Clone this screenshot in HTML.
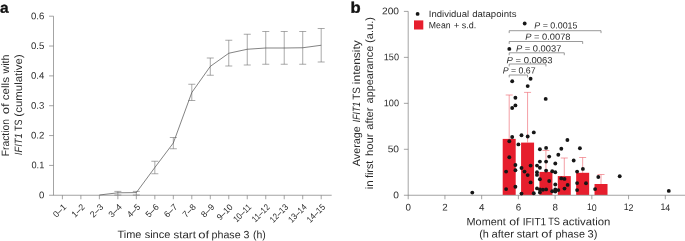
<!DOCTYPE html>
<html><head><meta charset="utf-8"><title>Figure</title>
<style>html,body{margin:0;padding:0;background:#fff}svg{display:block}text{text-rendering:geometricPrecision}</style></head>
<body>
<svg width="685" height="241" viewBox="0 0 685 241" font-family='"Liberation Sans", Arial, sans-serif' fill="#2b2b2b">
<rect width="685" height="241" fill="#fff"/>
<text transform="translate(-0.1 12.65) rotate(0.03) scale(1.04 1)" font-size="14.9" font-weight="bold" fill="#111" stroke="#111" stroke-width="0.3">a</text>
<g stroke="#7d7d7d" stroke-width="0.7" fill="none">
<path d="M53.5 16.2V195.25M49.1 195.25H331.7"/>
<path d="M49.1 165.41H53.5"/>
<path d="M49.1 135.57H53.5"/>
<path d="M49.1 105.72H53.5"/>
<path d="M49.1 75.88H53.5"/>
<path d="M49.1 46.04H53.5"/>
<path d="M49.1 16.20H53.5"/>
<path d="M62.40 195.25V199.25"/>
<path d="M80.89 195.25V199.25"/>
<path d="M99.37 195.25V199.25"/>
<path d="M117.86 195.25V199.25"/>
<path d="M136.34 195.25V199.25"/>
<path d="M154.83 195.25V199.25"/>
<path d="M173.32 195.25V199.25"/>
<path d="M191.80 195.25V199.25"/>
<path d="M210.29 195.25V199.25"/>
<path d="M228.77 195.25V199.25"/>
<path d="M247.26 195.25V199.25"/>
<path d="M265.75 195.25V199.25"/>
<path d="M284.23 195.25V199.25"/>
<path d="M302.72 195.25V199.25"/>
<path d="M321.20 195.25V199.25"/>
</g>
<text transform="translate(44.3 198.20) rotate(0.03) scale(1.0 1)" font-size="9.6" text-anchor="end">0</text>
<text transform="translate(44.3 168.36) rotate(0.03) scale(0.96 1)" font-size="9.6" text-anchor="end">0.1</text>
<text transform="translate(44.3 138.52) rotate(0.03) scale(1.0 1)" font-size="9.6" text-anchor="end">0.2</text>
<text transform="translate(44.3 108.67) rotate(0.03) scale(1.0 1)" font-size="9.6" text-anchor="end">0.3</text>
<text transform="translate(44.3 78.83) rotate(0.03) scale(1.0 1)" font-size="9.6" text-anchor="end">0.4</text>
<text transform="translate(44.3 48.99) rotate(0.03) scale(1.0 1)" font-size="9.6" text-anchor="end">0.5</text>
<text transform="translate(44.3 19.15) rotate(0.03) scale(1.0 1)" font-size="9.6" text-anchor="end">0.6</text>
<text transform="translate(67.00 207.65) rotate(-45) scale(1.0 1)" font-size="8.8" text-anchor="end">0–1</text>
<text transform="translate(85.49 207.65) rotate(-45) scale(1.0 1)" font-size="8.8" text-anchor="end">1–2</text>
<text transform="translate(103.97 207.65) rotate(-45) scale(1.0 1)" font-size="8.8" text-anchor="end">2–3</text>
<text transform="translate(122.46 207.65) rotate(-45) scale(1.0 1)" font-size="8.8" text-anchor="end">3–4</text>
<text transform="translate(140.94 207.65) rotate(-45) scale(1.0 1)" font-size="8.8" text-anchor="end">4–5</text>
<text transform="translate(159.43 207.65) rotate(-45) scale(1.0 1)" font-size="8.8" text-anchor="end">5–6</text>
<text transform="translate(177.92 207.65) rotate(-45) scale(1.0 1)" font-size="8.8" text-anchor="end">6–7</text>
<text transform="translate(196.40 207.65) rotate(-45) scale(1.0 1)" font-size="8.8" text-anchor="end">7–8</text>
<text transform="translate(214.89 207.65) rotate(-45) scale(1.0 1)" font-size="8.8" text-anchor="end">8–9</text>
<text transform="translate(233.37 207.65) rotate(-45) scale(0.94 1)" font-size="8.8" text-anchor="end">9–10</text>
<text transform="translate(251.86 207.65) rotate(-45) scale(0.9 1)" font-size="8.8" text-anchor="end">10–11</text>
<text transform="translate(270.35 207.65) rotate(-45) scale(0.9 1)" font-size="8.8" text-anchor="end">11–12</text>
<text transform="translate(288.83 207.65) rotate(-45) scale(0.9 1)" font-size="8.8" text-anchor="end">12–13</text>
<text transform="translate(307.32 207.65) rotate(-45) scale(0.9 1)" font-size="8.8" text-anchor="end">13–14</text>
<text transform="translate(325.80 207.65) rotate(-45) scale(0.9 1)" font-size="8.8" text-anchor="end">14–15</text>
<g stroke="#707070" stroke-width="0.6" fill="none">
<path d="M117.86 191.4V195.0M114.36 191.4h7M114.36 195.0h7"/>
<path d="M136.34 191.4V195.0M132.84 191.4h7M132.84 195.0h7"/>
<path d="M154.83 161.25V173.75M151.33 161.25h7M151.33 173.75h7"/>
<path d="M173.32 137.5V148.75M169.82 137.5h7M169.82 148.75h7"/>
<path d="M191.80 84.25V100.5M188.30 84.25h7M188.30 100.5h7"/>
<path d="M210.29 58V75.25M206.79 58h7M206.79 75.25h7"/>
<path d="M228.77 40.25V66M225.27 40.25h7M225.27 66h7"/>
<path d="M247.26 34.25V65M243.76 34.25h7M243.76 65h7"/>
<path d="M265.75 31.5V64.25M262.25 31.5h7M262.25 64.25h7"/>
<path d="M284.23 31.5V64.25M280.73 31.5h7M280.73 64.25h7"/>
<path d="M302.72 31.5V64.25M299.22 31.5h7M299.22 64.25h7"/>
<path d="M321.20 28.5V62M317.70 28.5h7M317.70 62h7"/>
</g>
<path d="M99.37 195.0L117.86 192.8L136.34 192.6L154.83 167.5L173.32 143L191.80 92.5L210.29 66.4L228.77 53.25L247.26 49.25L265.75 48L284.23 48L302.72 47.75L321.20 45.25" stroke="#4d4d4d" stroke-width="0.7" fill="none"/>
<text transform="translate(8.6 0) rotate(-90)" font-size="10.6" xml:space="preserve"><tspan x="-156.25" textLength="37.10" lengthAdjust="spacingAndGlyphs">Fraction</tspan> <tspan x="-114.15" textLength="10.90" lengthAdjust="spacingAndGlyphs">of</tspan> <tspan x="-100.25" textLength="23.20" lengthAdjust="spacingAndGlyphs">cells</tspan> <tspan x="-73.45" textLength="18.90" lengthAdjust="spacingAndGlyphs">with</tspan></text>
<text transform="translate(21.6 0) rotate(-90)" font-size="10.6" xml:space="preserve"><tspan x="-155.25" textLength="22.10" lengthAdjust="spacingAndGlyphs" font-style="italic">IFIT1</tspan> <tspan x="-130.95" textLength="11.50" lengthAdjust="spacingAndGlyphs">TS</tspan> <tspan x="-116.65" textLength="62.40" lengthAdjust="spacingAndGlyphs">(cumulative)</tspan></text>
<text transform="translate(118.0 238.1) rotate(0.03)" font-size="10.6" xml:space="preserve"><tspan x="-0.45" textLength="23.90" lengthAdjust="spacingAndGlyphs">Time</tspan> <tspan x="26.65" textLength="25.80" lengthAdjust="spacingAndGlyphs">since</tspan> <tspan x="55.55" textLength="22.30" lengthAdjust="spacingAndGlyphs">start</tspan> <tspan x="80.35" textLength="10.90" lengthAdjust="spacingAndGlyphs">of</tspan> <tspan x="93.55" textLength="29.10" lengthAdjust="spacingAndGlyphs">phase</tspan> <tspan x="125.55" textLength="5.90" lengthAdjust="spacingAndGlyphs">3</tspan> <tspan x="134.95" textLength="12.80" lengthAdjust="spacingAndGlyphs">(h)</tspan></text>
<text transform="translate(350.6 12.7) rotate(0.03) scale(1.08 1)" font-size="15.4" font-weight="bold" fill="#111" stroke="#111" stroke-width="0.35">b</text>
<g fill="#e61e2d">
<rect x="502.70" y="138.9" width="13" height="56.05"/>
<rect x="521.07" y="142.6" width="13" height="52.35"/>
<rect x="539.43" y="171.9" width="13" height="23.05"/>
<rect x="557.79" y="176.1" width="13" height="18.85"/>
<rect x="576.16" y="172.8" width="13" height="22.15"/>
<rect x="594.52" y="184.0" width="13" height="10.95"/>
</g>
<g stroke="#ec5f6a" stroke-width="0.6" fill="none">
<path d="M509.20 138.9V95.0M505.70 95.0h7"/>
<path d="M527.57 142.6V92.4M524.07 92.4h7"/>
<path d="M545.93 171.9V150.5M542.43 150.5h7"/>
<path d="M564.29 176.1V158.0M560.79 158.0h7"/>
<path d="M582.66 172.8V157.5M579.16 157.5h7"/>
<path d="M601.02 184.0V174.5M597.52 174.5h7"/>
</g>
<g stroke="#7d7d7d" stroke-width="0.7" fill="none">
<path d="M408.2 11.4V199.25M403.9 195.25H685"/>
<path d="M403.9 149.29H408.2"/>
<path d="M403.9 103.33H408.2"/>
<path d="M403.9 57.36H408.2"/>
<path d="M403.9 11.40H408.2"/>
<path d="M444.93 195.25V199.25"/>
<path d="M481.66 195.25V199.25"/>
<path d="M518.38 195.25V199.25"/>
<path d="M555.11 195.25V199.25"/>
<path d="M591.84 195.25V199.25"/>
<path d="M628.57 195.25V199.25"/>
<path d="M665.30 195.25V199.25"/>
</g>
<text transform="translate(399.0 198.20) rotate(0.03) scale(1.06 1)" font-size="9.6" text-anchor="end">0</text>
<text transform="translate(399.0 152.24) rotate(0.03) scale(1.06 1)" font-size="9.6" text-anchor="end">50</text>
<text transform="translate(399.0 106.28) rotate(0.03) scale(0.95 1)" font-size="9.6" text-anchor="end">100</text>
<text transform="translate(399.0 60.31) rotate(0.03) scale(0.95 1)" font-size="9.6" text-anchor="end">150</text>
<text transform="translate(399.0 14.35) rotate(0.03) scale(1.06 1)" font-size="9.6" text-anchor="end">200</text>
<text transform="translate(408.20 210.5) rotate(0.03) scale(1.02 1)" font-size="9.6" text-anchor="middle">0</text>
<text transform="translate(444.93 210.5) rotate(0.03) scale(1.02 1)" font-size="9.6" text-anchor="middle">2</text>
<text transform="translate(481.66 210.5) rotate(0.03) scale(1.02 1)" font-size="9.6" text-anchor="middle">4</text>
<text transform="translate(518.38 210.5) rotate(0.03) scale(1.02 1)" font-size="9.6" text-anchor="middle">6</text>
<text transform="translate(555.11 210.5) rotate(0.03) scale(1.02 1)" font-size="9.6" text-anchor="middle">8</text>
<text transform="translate(591.84 210.5) rotate(0.03) scale(0.92 1)" font-size="9.6" text-anchor="middle">10</text>
<text transform="translate(628.57 210.5) rotate(0.03) scale(0.92 1)" font-size="9.6" text-anchor="middle">12</text>
<text transform="translate(665.30 210.5) rotate(0.03) scale(0.92 1)" font-size="9.6" text-anchor="middle">14</text>
<g fill="#161616">
<circle cx="524.7" cy="23.5" r="1.93"/>
<circle cx="509.3" cy="48.9" r="1.93"/>
<circle cx="530.6" cy="78.7" r="1.93"/>
<circle cx="512.2" cy="81.3" r="1.93"/>
<circle cx="527.7" cy="86.1" r="1.93"/>
<circle cx="515.4" cy="97.7" r="1.93"/>
<circle cx="545.7" cy="98.9" r="1.93"/>
<circle cx="515.4" cy="105.4" r="1.93"/>
<circle cx="512.2" cy="108.0" r="1.93"/>
<circle cx="533.8" cy="132.4" r="1.93"/>
<circle cx="521.5" cy="135.3" r="1.93"/>
<circle cx="512.2" cy="137.0" r="1.93"/>
<circle cx="527.7" cy="136.5" r="1.93"/>
<circle cx="567.4" cy="140.0" r="1.93"/>
<circle cx="509.3" cy="141.3" r="1.93"/>
<circle cx="518.4" cy="144.4" r="1.93"/>
<circle cx="539.9" cy="149.3" r="1.93"/>
<circle cx="546.1" cy="147.9" r="1.93"/>
<circle cx="561.3" cy="148.7" r="1.93"/>
<circle cx="579.9" cy="148.2" r="1.93"/>
<circle cx="558.3" cy="154.7" r="1.93"/>
<circle cx="549.2" cy="156.6" r="1.93"/>
<circle cx="509.3" cy="157.2" r="1.93"/>
<circle cx="573.7" cy="160.5" r="1.93"/>
<circle cx="539.9" cy="161.6" r="1.93"/>
<circle cx="546.1" cy="161.6" r="1.93"/>
<circle cx="555.3" cy="163.5" r="1.93"/>
<circle cx="515.4" cy="165.0" r="1.93"/>
<circle cx="530.6" cy="165.6" r="1.93"/>
<circle cx="537.0" cy="165.6" r="1.93"/>
<circle cx="521.5" cy="168.0" r="1.93"/>
<circle cx="539.9" cy="167.7" r="1.93"/>
<circle cx="582.9" cy="168.9" r="1.93"/>
<circle cx="515.4" cy="170.3" r="1.93"/>
<circle cx="506.1" cy="171.6" r="1.93"/>
<circle cx="546.1" cy="170.6" r="1.93"/>
<circle cx="524.5" cy="171.6" r="1.93"/>
<circle cx="552.2" cy="171.3" r="1.93"/>
<circle cx="555.3" cy="172.2" r="1.93"/>
<circle cx="577.1" cy="171.6" r="1.93"/>
<circle cx="537.0" cy="172.2" r="1.93"/>
<circle cx="537.0" cy="174.9" r="1.93"/>
<circle cx="527.7" cy="175.1" r="1.93"/>
<circle cx="539.9" cy="179.3" r="1.93"/>
<circle cx="561.3" cy="178.4" r="1.93"/>
<circle cx="564.5" cy="178.9" r="1.93"/>
<circle cx="598.3" cy="177.0" r="1.93"/>
<circle cx="549.2" cy="181.0" r="1.93"/>
<circle cx="530.6" cy="182.4" r="1.93"/>
<circle cx="577.1" cy="183.1" r="1.93"/>
<circle cx="586.0" cy="183.3" r="1.93"/>
<circle cx="555.3" cy="184.5" r="1.93"/>
<circle cx="567.6" cy="184.9" r="1.93"/>
<circle cx="515.4" cy="186.8" r="1.93"/>
<circle cx="506.1" cy="189.1" r="1.93"/>
<circle cx="537.0" cy="188.4" r="1.93"/>
<circle cx="564.5" cy="188.6" r="1.93"/>
<circle cx="539.9" cy="189.4" r="1.93"/>
<circle cx="542.9" cy="189.8" r="1.93"/>
<circle cx="546.1" cy="189.4" r="1.93"/>
<circle cx="595.1" cy="189.1" r="1.93"/>
<circle cx="577.1" cy="190.1" r="1.93"/>
<circle cx="552.2" cy="191.2" r="1.93"/>
<circle cx="555.3" cy="189.5" r="1.93"/>
<circle cx="555.3" cy="191.6" r="1.93"/>
<circle cx="558.3" cy="190.1" r="1.93"/>
<circle cx="539.9" cy="192.4" r="1.93"/>
<circle cx="521.5" cy="193.6" r="1.93"/>
<circle cx="533.8" cy="193.3" r="1.93"/>
<circle cx="619.7" cy="176.3" r="1.93"/>
<circle cx="668.8" cy="190.9" r="1.93"/>
<circle cx="472.3" cy="192.6" r="1.93"/>
</g>
<g stroke="#6e6e6e" stroke-width="0.7" fill="none">
<path d="M509.20 33.1V30.7H601.02V33.1"/>
<path d="M509.20 43.9V41.5H582.66V43.9"/>
<path d="M509.20 55.199999999999996V52.8H564.29V55.199999999999996"/>
<path d="M509.20 66.4V64.0H545.93V66.4"/>
<path d="M509.20 77.4V75.0H527.57V77.4"/>
</g>
<text transform="translate(534.3000000000001 28.4) rotate(0.03)" font-size="8.9" textLength="43.199999999999996" lengthAdjust="spacingAndGlyphs"><tspan font-style="italic">P</tspan> = 0.0015</text>
<text transform="translate(525.2 39.8) rotate(0.03)" font-size="8.9" textLength="45.3" lengthAdjust="spacingAndGlyphs"><tspan font-style="italic">P</tspan> = 0.0078</text>
<text transform="translate(515.9 51.4) rotate(0.03)" font-size="8.9" textLength="45.5" lengthAdjust="spacingAndGlyphs"><tspan font-style="italic">P</tspan> = 0.0037</text>
<text transform="translate(506.6 63.3) rotate(0.03)" font-size="8.9" textLength="46.0" lengthAdjust="spacingAndGlyphs"><tspan font-style="italic">P</tspan> = 0.0063</text>
<text transform="translate(502.70000000000005 73.6) rotate(0.03)" font-size="8.9" textLength="32.9" lengthAdjust="spacingAndGlyphs"><tspan font-style="italic">P</tspan> = 0.67</text>
<circle cx="417.6" cy="13.9" r="1.93" fill="#161616"/>
<rect x="414.0" y="20.4" width="9.3" height="9.1" fill="#e61e2d"/>
<text transform="translate(429.3 16.9) rotate(0.03)" font-size="9.1" xml:space="preserve"><tspan x="-0.45" textLength="40.20" lengthAdjust="spacingAndGlyphs">Individual</tspan> <tspan x="42.85" textLength="44.30" lengthAdjust="spacingAndGlyphs">datapoints</tspan></text>
<text transform="translate(429.3 28.2) rotate(0.03)" font-size="9.1" xml:space="preserve"><tspan x="-0.45" textLength="21.70" lengthAdjust="spacingAndGlyphs">Mean</tspan> <tspan x="24.45" textLength="5.70" lengthAdjust="spacingAndGlyphs">+</tspan> <tspan x="32.45" textLength="14.50" lengthAdjust="spacingAndGlyphs">s.d.</tspan></text>
<text transform="translate(359.6 0) rotate(-90)" font-size="10.6" xml:space="preserve"><tspan x="-166.15" textLength="39.80" lengthAdjust="spacingAndGlyphs">Average</tspan> <tspan x="-122.25" textLength="20.30" lengthAdjust="spacingAndGlyphs" font-style="italic">IFIT1</tspan> <tspan x="-99.75" textLength="12.70" lengthAdjust="spacingAndGlyphs">TS</tspan> <tspan x="-84.15" textLength="44.00" lengthAdjust="spacingAndGlyphs">intensity</tspan></text>
<text transform="translate(372.8 0) rotate(-90)" font-size="10.6" xml:space="preserve"><tspan x="-189.25" textLength="9.00" lengthAdjust="spacingAndGlyphs">in</tspan> <tspan x="-178.05" textLength="17.30" lengthAdjust="spacingAndGlyphs">first</tspan> <tspan x="-155.95" textLength="22.50" lengthAdjust="spacingAndGlyphs">hour</tspan> <tspan x="-129.75" textLength="22.10" lengthAdjust="spacingAndGlyphs">after</tspan> <tspan x="-103.45" textLength="57.70" lengthAdjust="spacingAndGlyphs">appearance</tspan> <tspan x="-42.95" textLength="26.00" lengthAdjust="spacingAndGlyphs">(a.u.)</tspan></text>
<text transform="translate(467.0 225.3) rotate(0.03)" font-size="10.6" xml:space="preserve"><tspan x="-0.45" textLength="39.20" lengthAdjust="spacingAndGlyphs">Moment</tspan> <tspan x="42.25" textLength="10.30" lengthAdjust="spacingAndGlyphs">of</tspan> <tspan x="55.65" textLength="23.50" lengthAdjust="spacingAndGlyphs">IFIT1</tspan> <tspan x="81.15" textLength="11.80" lengthAdjust="spacingAndGlyphs">TS</tspan> <tspan x="95.45" textLength="48.00" lengthAdjust="spacingAndGlyphs">activation</tspan></text>
<text transform="translate(479.6 237.5) rotate(0.03)" font-size="10.6" xml:space="preserve"><tspan x="-0.45" textLength="9.70" lengthAdjust="spacingAndGlyphs">(h</tspan> <tspan x="11.85" textLength="22.50" lengthAdjust="spacingAndGlyphs">after</tspan> <tspan x="37.15" textLength="21.50" lengthAdjust="spacingAndGlyphs">start</tspan> <tspan x="61.75" textLength="10.70" lengthAdjust="spacingAndGlyphs">of</tspan> <tspan x="75.95" textLength="29.40" lengthAdjust="spacingAndGlyphs">phase</tspan> <tspan x="107.95" textLength="9.90" lengthAdjust="spacingAndGlyphs">3)</tspan></text>
</svg>
</body></html>
